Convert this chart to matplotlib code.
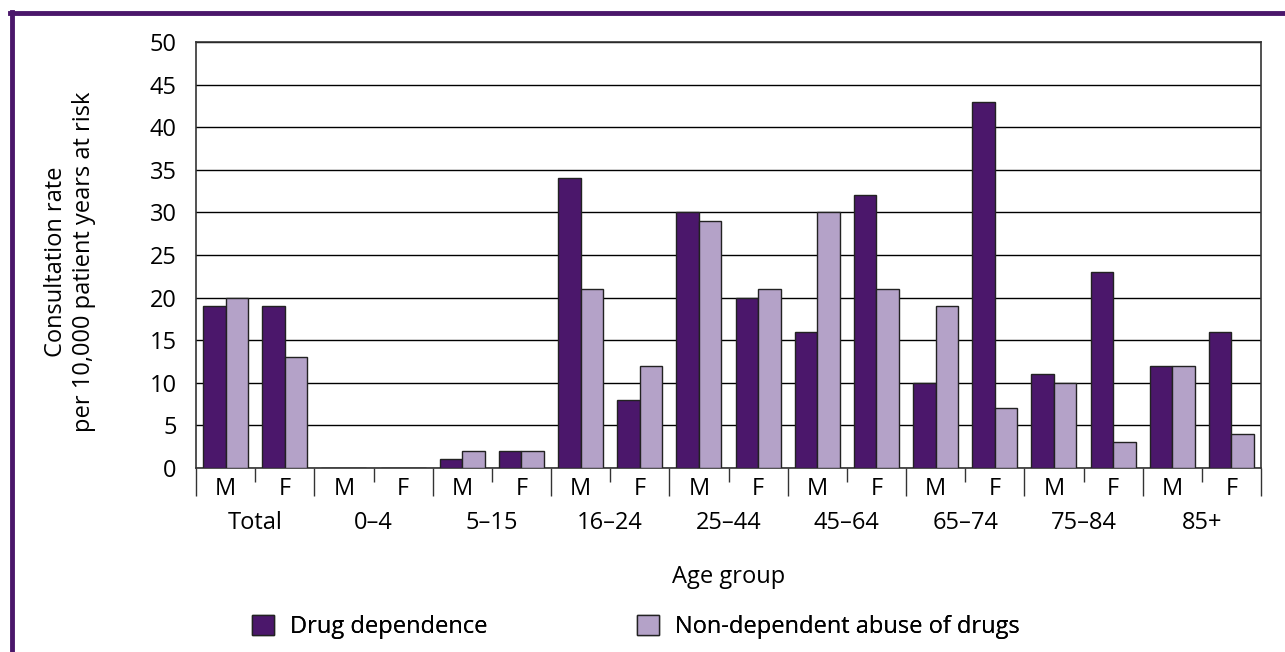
import numpy as np
import matplotlib.pyplot as plt
from matplotlib.patches import Patch
from matplotlib.lines import Line2D

groups = ['Total', '0\u20134', '5\u201315', '16\u201324', '25\u201344', '45\u201364', '65\u201374', '75\u201384', '85+']
sexes = ['M', 'F']
dependence = [19, 19, 0, 0, 1, 2, 34, 8, 30, 20, 16, 32, 10, 43, 11, 23, 12, 16]
abuse = [20, 13, 0, 0, 2, 2, 21, 12, 29, 21, 30, 21, 19, 7, 10, 3, 12, 4]
labels = ['Drug dependence', 'Non-dependent abuse of drugs']

dark = '#4b176b'
light = '#b4a2c8'
plt.rcParams['font.family'] = ['Open Sans', 'DejaVu Sans']
fs = 17

fig = plt.figure(figsize=(12.85, 6.52), dpi=100)
ax = fig.add_axes([196 / 1285, 1 - 468 / 652, 1065 / 1285, 426 / 652])

n = len(dependence)
x = np.arange(n)
w = 0.38
ax.bar(x - w / 2, dependence, w, color=dark, edgecolor='#222222', linewidth=1, zorder=3)
ax.bar(x + w / 2, abuse, w, color=light, edgecolor='#222222', linewidth=1, zorder=3)

ax.set_xlim(-0.5, n - 0.5)
ax.set_ylim(0, 50)
ax.set_yticks(range(0, 51, 5))
ax.yaxis.grid(True, color='black', linewidth=1, zorder=0)
ax.tick_params(axis='y', length=0, labelsize=fs, pad=14)
for s in ax.spines.values():
    s.set_color('#333333')
    s.set_linewidth(1.2)

# category ticks
ax.set_xticks(np.arange(0, n + 1, 2) - 0.5)
ax.set_xticklabels([])
ax.tick_params(axis='x', which='major', length=20, width=1, color='#333333')
ax.set_xticks(np.arange(1, n, 2) - 0.5, minor=True)
ax.tick_params(axis='x', which='minor', length=10, width=1, color='#333333')
for i in range(n):
    ax.text(i, -2.5, sexes[i % 2], ha='center', va='center', fontsize=fs)
for g, name in enumerate(groups):
    ax.text(2 * g + 0.5, -6.5, name, ha='center', va='center', fontsize=fs)
ax.text((n - 1) / 2, -12.8, 'Age group', ha='center', va='center', fontsize=fs)

fig.text(70 / 1285, 1 - 262 / 652, 'Consultation rate\nper 10,000 patient years at risk',
         rotation=90, ha='center', va='center', fontsize=fs, linespacing=1.2)

cols = [dark, light]
xpos = [243, 628]
for c, lab, xp in zip(cols, labels, xpos):
    leg = fig.legend([Patch(facecolor=c, edgecolor='#222222')], [lab], loc='center left',
                     bbox_to_anchor=(xp / 1285, 1 - 627 / 652), frameon=False, fontsize=fs,
                     handlelength=0.9, handleheight=0.9, handletextpad=0.7, borderaxespad=0)
    fig.add_artist(leg)

# purple frame
fig.add_artist(Line2D([10 / 1285, 1], [1 - 13 / 652, 1 - 13 / 652], color=dark, linewidth=3.5))
fig.add_artist(Line2D([12 / 1285, 12 / 1285], [0, 1 - 12 / 652], color=dark, linewidth=3.5))

fig.savefig('out.png', dpi=100)
